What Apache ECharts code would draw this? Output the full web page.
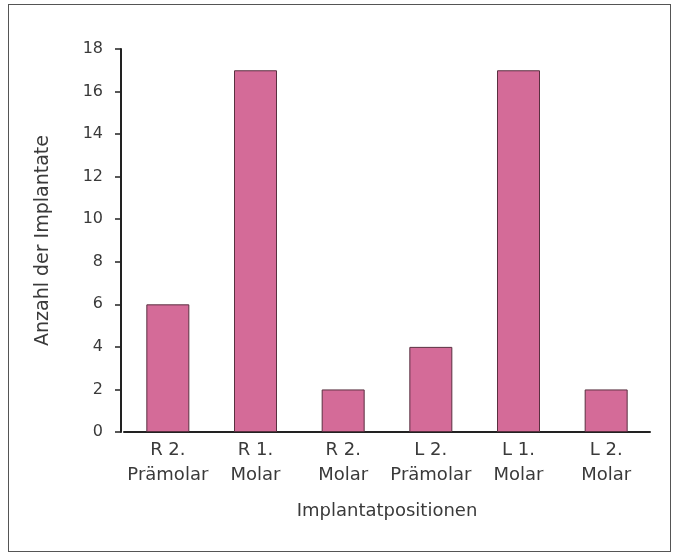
<!DOCTYPE html>
<html>
<head>
<meta charset="utf-8">
<script src="https://cdn.jsdelivr.net/npm/echarts@6/dist/echarts.min.js"></script>
<style>
  html, body { margin: 0; padding: 0; background: #fff; }
  #frame { position: absolute; left: 8px; top: 4px; width: 663px; height: 548px; border: 1.5px solid #555; box-sizing: border-box; }
  #chart { position: absolute; left: 0; top: 0; width: 677px; height: 558px; }
</style>
</head>
<body>
<div id="frame"></div>
<div id="chart"></div>
<script>
// Implant counts per tooth position
const categories = ['R 2.\nPrämolar', 'R 1.\nMolar', 'R 2.\nMolar', 'L 2.\nPrämolar', 'L 1.\nMolar', 'L 2.\nMolar'];
const counts = [6, 17, 2, 4, 17, 2];
const yTicks = { min: 0, max: 18, interval: 2 };

const fontFamily = '"DejaVu Sans", sans-serif';
const textColor = '#3a3a3a';

const chart = echarts.init(document.getElementById('chart'), null, { renderer: 'canvas' });
chart.setOption({
  animation: false,
  grid: { left: 124, top: 49, width: 526, height: 383, containLabel: false },
  xAxis: {
    type: 'category',
    data: categories,
    name: 'Implantatpositionen',
    nameLocation: 'middle',
    nameGap: 70,
    nameTextStyle: { fontFamily, fontSize: 18, color: textColor, verticalAlign: 'top' },
    axisLine: { lineStyle: { color: '#222', width: 2 } },
    axisTick: { show: false },
    axisLabel: { fontFamily, fontSize: 18, color: textColor, margin: 6, lineHeight: 25, interval: 0 }
  },
  yAxis: {
    type: 'value',
    min: yTicks.min,
    max: yTicks.max,
    interval: yTicks.interval,
    offset: 3,
    name: 'Anzahl der Implantate',
    nameLocation: 'middle',
    nameGap: 68,
    nameTextStyle: { fontFamily, fontSize: 19, color: textColor },
    axisLine: { show: true, lineStyle: { color: '#222', width: 2 } },
    axisTick: { show: true, length: 6, lineStyle: { color: '#222', width: 1.5 } },
    axisLabel: { fontFamily, fontSize: 16, color: textColor, margin: 18 },
    splitLine: { show: false }
  },
  series: [{
    type: 'bar',
    data: counts,
    barWidth: 43,
    itemStyle: { color: '#d46b98', borderColor: '#5a3040', borderWidth: 1 }
  }]
});
</script>
</body>
</html>
